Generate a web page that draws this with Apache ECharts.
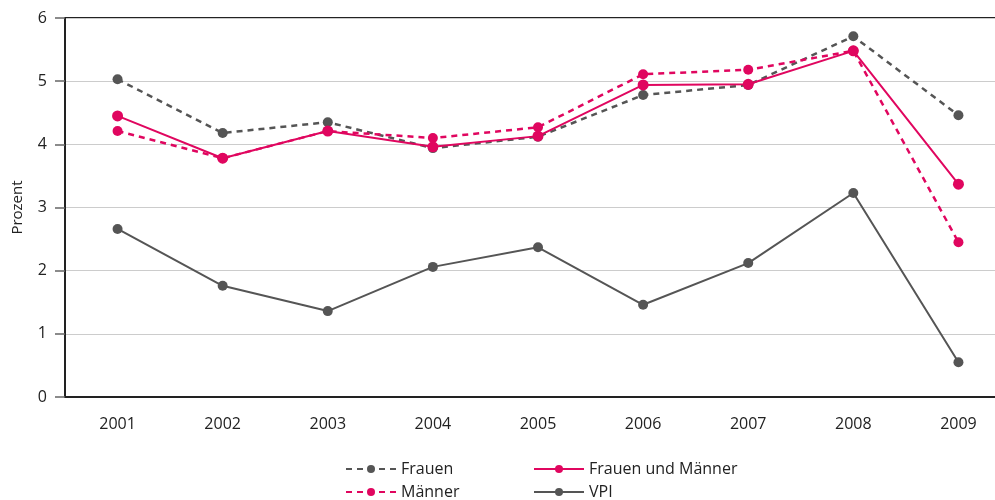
<!DOCTYPE html>
<html><head><meta charset="utf-8">
<script src="https://cdn.jsdelivr.net/npm/echarts@6/dist/echarts.min.js"></script>
<style>html,body{margin:0;padding:0;background:#fff}#c{width:995px;height:500px}</style>
</head><body><div id="c"></div>
<script>
const years = ['2001','2002','2003','2004','2005','2006','2007','2008','2009'];
const frauen = [5.03, 4.18, 4.35, 3.94, 4.12, 4.78, 4.94, 5.71, 4.46];
const beide = [4.45, 3.78, 4.21, 3.96, 4.13, 4.94, 4.95, 5.48, 3.37];
const maenner = [4.21, 3.78, 4.21, 4.10, 4.27, 5.11, 5.18, 5.48, 2.45];
const vpi = [2.66, 1.76, 1.36, 2.06, 2.37, 1.46, 2.12, 3.23, 0.55];

const PINK = '#e0065f', GREY = '#555555';
const FONT = 'Open Sans';
const legendText = {color:'#222', fontSize:16, fontFamily:FONT};
function lg(name, left, top){
  return {data:[name], left:left, top:top, itemWidth:50, itemHeight:10, textStyle:legendText};
}
const chart = echarts.init(document.getElementById('c'), null, {renderer:'canvas'});
chart.setOption({
  animation:false,
  textStyle:{fontFamily:FONT},
  grid:{left:65, width:946, top:18, height:379, outerBoundsMode:'none', containLabel:false},
  xAxis:{type:'category', data:years, boundaryGap:true,
    axisLine:{lineStyle:{color:'#222', width:2}},
    axisTick:{alignWithLabel:true, length:9, lineStyle:{color:'#444', width:1.5}},
    axisLabel:{color:'#222', fontSize:16, margin:19, fontFamily:FONT}},
  yAxis:{type:'value', min:0, max:6, interval:1, name:'Prozent', nameLocation:'middle', nameGap:40,
    nameTextStyle:{color:'#222', fontSize:15, fontFamily:FONT},
    axisLine:{show:true, lineStyle:{color:'#222', width:2}},
    axisTick:{show:true, length:10, lineStyle:{color:'#666', width:1.5}},
    axisLabel:{color:'#222', fontSize:16, margin:18, fontFamily:FONT},
    splitLine:{lineStyle:{color:'#cccccc', width:1.2}}},
  legend:[
    lg('Frauen', 340, 456),
    lg('Männer', 340, 479),
    lg('Frauen und Männer', 528, 456),
    lg('VPI', 528, 479)
  ],
  series:[
    {name:'VPI', type:'line', data:vpi, symbol:'circle', symbolSize:10, color:GREY,
     lineStyle:{color:GREY, width:2}, itemStyle:{color:GREY}},
    {name:'Frauen', type:'line', data:frauen, symbol:'circle', symbolSize:10, color:GREY,
     lineStyle:{color:GREY, width:2.5, type:[6,5]}, itemStyle:{color:GREY}},
    {name:'Männer', type:'line', data:maenner, symbol:'circle', symbolSize:10, color:PINK,
     lineStyle:{color:PINK, width:2.5, type:[6,5]}, itemStyle:{color:PINK}},
    {name:'Frauen und Männer', type:'line', data:beide, symbol:'circle', symbolSize:11, color:PINK,
     lineStyle:{color:PINK, width:2}, itemStyle:{color:PINK}}
  ],
  graphic:[{type:'line', shape:{x1:65, y1:18, x2:995, y2:18}, style:{stroke:'#222', lineWidth:2}, silent:true}]
});
</script></body></html>
